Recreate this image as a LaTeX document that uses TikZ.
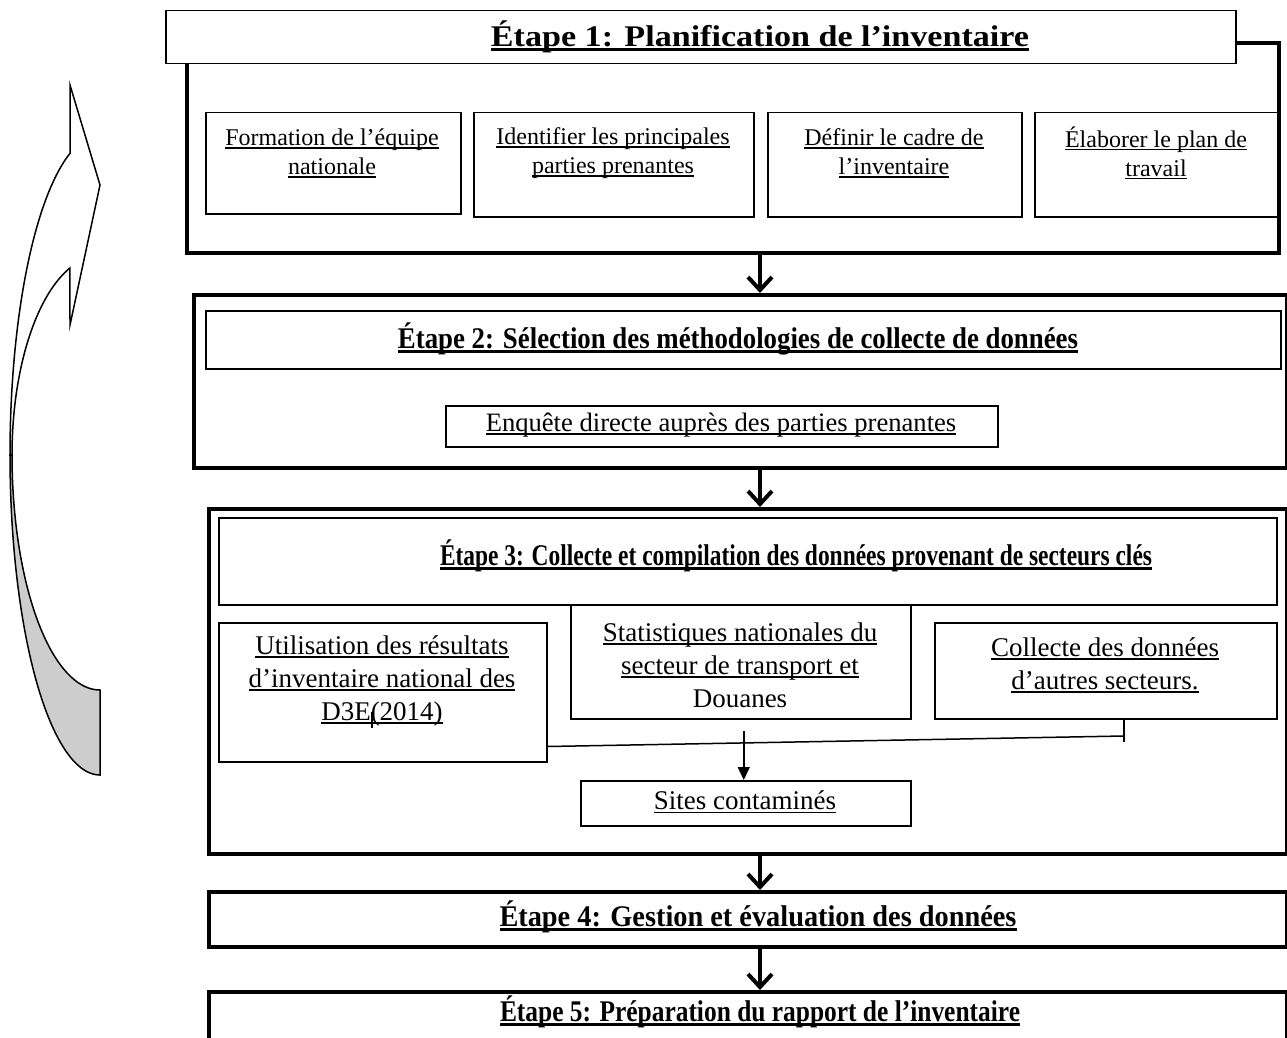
\documentclass[tikz,border=0pt]{standalone}
\usepackage{fontspec}
\setmainfont{Liberation Serif}
\usepackage{graphicx}
\usetikzlibrary{arrows.meta,calc}
\newsavebox\ulbox
\newcommand\ulx[2][0.065em]{\sbox\ulbox{#2}\rlap{\rule[-0.14em]{\wd\ulbox}{#1}}\usebox\ulbox}
\newcommand\ttl[2]{\resizebox{#1}{\height}{\ulx[0.09em]{\textbf{#2}}}}
\definecolor{backgray}{HTML}{CDCDCD}
\tikzset{
  thinbox/.style={draw, line width=1.5pt, inner sep=0pt, anchor=north west},
  framebox/.style={draw, line width=4pt, inner sep=0pt, anchor=north west},
  ghost/.style={inner sep=0pt, anchor=north west},
  txt/.style={align=center, inner sep=0pt, font=\fontsize{24}{29}\selectfont},
  txtb/.style={align=center, inner sep=0pt, font=\fontsize{27}{33}\selectfont},
  ttlfont/.style={inner sep=0pt, font=\fontsize{30}{36}\selectfont},
  bigarrow/.style={line width=4pt, -{Straight Barb[length=13pt,width=24pt]}},
  thinline/.style={line width=1.5pt},
  framelinestyle/.style={line width=4pt, line join=miter},
}
\begin{document}
\begin{tikzpicture}[x=1pt,y=-1pt]
\useasboundingbox (0,0) rectangle (1287,1038);
\clip (0,0) rectangle (1287,1038);

% curved arrow on the left
\draw[thinline, fill=white, line join=miter]
  plot[domain=250.53:180, samples=60] ({100+90*cos(\x)},{455+320*sin(\x)})
  -- plot[domain=180:250.06, samples=60] ({100+88*cos(\x)},{455+199*sin(\x)})
  -- (70,325) -- (100,185) -- (70,85) -- cycle;
\draw[thinline, fill=backgray, line join=miter]
  plot[domain=180:90, samples=60] ({100+90*cos(\x)},{455+320*sin(\x)})
  -- (100,690)
  -- plot[domain=90:180, samples=60] ({100+88*cos(\x)},{455+235*sin(\x)})
  -- cycle;

% Step 1
\node[thinbox, minimum width=1070pt, minimum height=53pt] (h1) at (165,10) {};
\node[ghost, minimum width=1092pt, minimum height=190pt] (f1) at (187,63) {};
\draw[framelinestyle] (h1.east |- 0,43) -- (f1.north east |- 0,43) -- (f1.south east) -- (f1.south west) -- (f1.north west);
\node[thinbox, minimum width=255pt, minimum height=101pt] (b1) at (205,112) {};
\node[thinbox, minimum width=280pt, minimum height=104pt] (b2) at (473,112) {};
\node[thinbox, minimum width=254pt, minimum height=104pt] (b3) at (767,112) {};
\node[thinbox, minimum width=245pt, minimum height=104pt] (b4) at (1034,112) {};
\node[ttlfont] (t1) at (760,37) {\ttl{538pt}{Étape 1: Planification de l’inventaire}};
\node[txt] (t1a) at (332,153) {\ulx{Formation de l’équipe}\\\ulx{nationale}};
\node[txt] (t1b) at (613,153) {\ulx{Identifier les principales}\\\ulx{parties prenantes}};
\node[txt] (t1c) at (894,153) {\ulx{Définir le cadre de}\\\ulx{l’inventaire}};
\node[txt] (t1d) at (1156,153) {\ulx{Élaborer le plan de}\\\ulx{travail}};

% Step 2
\node[framebox, minimum width=1093pt, minimum height=173pt] (f2) at (192,293) {};
\node[thinbox, minimum width=1075pt, minimum height=58pt] (h2) at (205,310) {};
\node[thinbox, minimum width=552pt, minimum height=41pt] (e2) at (445,405) {};
\node[ttlfont] (t2) at (738,339) {\ttl{680pt}{Étape 2: Sélection des méthodologies de collecte de données}};
\node[inner sep=0pt, font=\fontsize{26.6}{32}\selectfont] (t2a) at (721,425) {\ulx{Enquête directe auprès des parties prenantes}};

% Step 3
\node[framebox, minimum width=1078pt, minimum height=345pt] (f3) at (207,507) {};
\node[thinbox, minimum width=1058pt, minimum height=87pt] (h3) at (218,517) {};
\node[thinbox, minimum width=328pt, minimum height=139pt] (u3) at (218,622) {};
\node[thinbox, minimum width=340pt, minimum height=114pt] (s3) at (570,604) {};
\node[thinbox, minimum width=342pt, minimum height=96pt] (c3) at (934,622) {};
\node[thinbox, minimum width=330pt, minimum height=45pt] (k3) at (580,780) {};
\node[ttlfont] (t3) at (796,556) {\ttl{712pt}{Étape 3: Collecte et compilation des données provenant de secteurs clés}};
\node[txtb] (t3a) at (382,682) {\ulx{Utilisation des résultats}\\\ulx{d’inventaire national des}\\\ulx{D3E\rlap{\kern0.02em\rule[-0.3em]{0.05em}{0.62em}}(2014)}};
\node[txtb] (t3b) at (740,665) {\ulx{Statistiques nationales du}\\\ulx{secteur de transport et}\\Douanes};
\node[txtb] (t3c) at (1105,665) {\ulx{Collecte des données}\\\ulx{d’autres secteurs.}};
\node[txtb] (t3d) at (745,802) {\ulx{Sites contaminés}};
\coordinate (jR) at (1124,736);
\draw[thinline] ($(u3.south east)+(0,-16)$) -- (jR);
\draw[thinline] (c3.south -| jR) -- ($(jR)+(0,6)$);
\draw[thinline, -{Triangle[length=13pt,width=12pt]}] ($(k3.north)+(-2,-49)$) -- ($(k3.north)+(-2,0)$);

% Step 4 and 5
\node[framebox, minimum width=1078pt, minimum height=55pt] (f4) at (207,890) {};
\node[ttlfont] (t4) at (758,917) {\ttl{517pt}{Étape 4: Gestion et évaluation des données}};
\node[framebox, minimum width=1078pt, minimum height=90pt] (f5) at (207,990) {};
\node[ttlfont] (t5) at (760,1012) {\ttl{520pt}{Étape 5: Préparation du rapport de l’inventaire}};

% main arrows
\coordinate (ax) at (760,0);
\draw[bigarrow] (f1.south -| ax) -- (f2.north -| ax);
\draw[bigarrow] (f2.south -| ax) -- (f3.north -| ax);
\draw[bigarrow] (f3.south -| ax) -- (f4.north -| ax);
\draw[bigarrow] (f4.south -| ax) -- (f5.north -| ax);
\end{tikzpicture}
\end{document}
